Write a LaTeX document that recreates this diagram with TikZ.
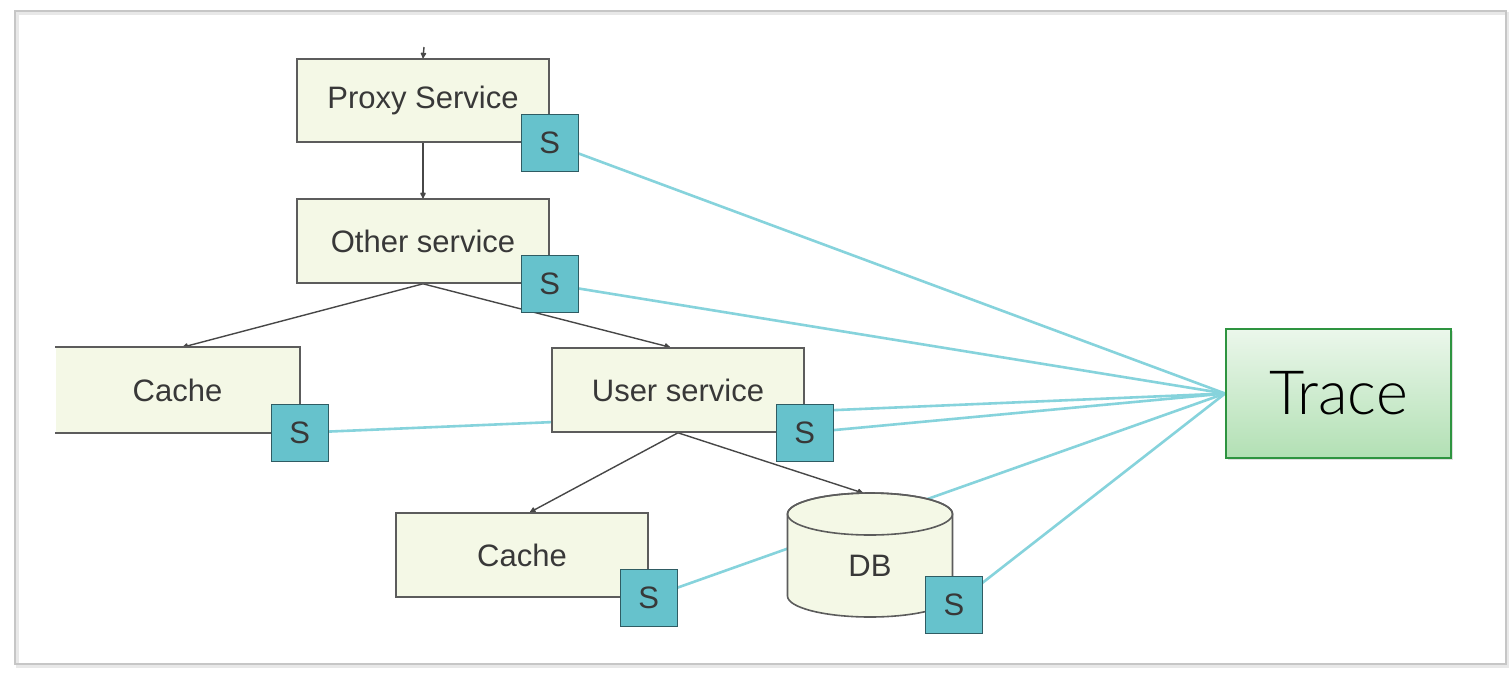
\documentclass[tikz,border=0pt]{standalone}
\usepackage{fontspec}
\setmainfont{Liberation Sans}
\newfontfamily\tracefont{Lato Light}
\usetikzlibrary{arrows.meta,shadows}
\definecolor{boxfill}{HTML}{F4F8E6}
\definecolor{boxline}{HTML}{5C5C5C}
\definecolor{sfill}{HTML}{66C2CC}
\definecolor{sline}{HTML}{2F5C63}
\definecolor{cyanline}{HTML}{86D3DC}
\definecolor{arrowcol}{HTML}{474747}
\definecolor{txt}{HTML}{383838}
\definecolor{tracetop}{HTML}{EBF7EB}
\definecolor{tracebot}{HTML}{B2E0B4}
\definecolor{traceline}{HTML}{2E9440}
\pgfdeclarelayer{bg}
\pgfdeclarelayer{lines}
\pgfsetlayers{bg,lines,main}
\begin{document}
\begin{tikzpicture}[x=1pt,y=-1pt,
  svcbox/.style={draw=boxline, fill=boxfill, line width=1.6pt, inner sep=0pt,
    text=txt, font=\fontsize{31}{36}\selectfont},
  sbox/.style={draw=sline, fill=sfill, line width=1.4pt, minimum size=57pt, inner sep=0pt,
    text=txt, font=\fontsize{31}{36}\selectfont},
  conn/.style={draw=arrowcol, line width=1.4pt, -{Latex[length=7pt,width=7pt,round]}},
  tracelink/.style={draw=cyanline, line width=2.6pt},
  frameline/.style={draw=gray!45, line width=1.8pt}
]
\useasboundingbox (0,0) rectangle (1509,673);
\begin{pgfonlayer}{bg}
  \fill[white] (0,0) rectangle (1509,673);
  \draw[draw=gray!18, line width=3pt] (17,13) rectangle (1508,666);
  \draw[frameline] (15,11) rectangle (1506,664);
\end{pgfonlayer}

% service boxes
\node[svcbox, minimum width=252pt, minimum height=83pt] (proxy) at (423,100.5) {Proxy Service};
\node[svcbox, minimum width=252pt, minimum height=84pt] (other) at (423,241) {Other service};
\node[svcbox, draw=none, minimum width=243pt, minimum height=84pt] (cacheL) at (177.5,390) {Cache};
\draw[draw=boxline, line width=1.6pt] (cacheL.north west) -- (cacheL.north east) -- (cacheL.south east) -- (cacheL.south west);
\node[svcbox, minimum width=252pt, minimum height=84pt] (user) at (678,390) {User service};
\node[svcbox, minimum width=252pt, minimum height=84pt] (cacheB) at (522,555) {Cache};

% DB cylinder
\path[draw=boxline, fill=boxfill, line width=1.6pt]
  (787.5,514) -- (787.5,596) arc[start angle=180, end angle=0, x radius=82.5, y radius=21]
  -- (952.5,514) arc[start angle=0, end angle=-180, x radius=82.5, y radius=21] -- cycle;
\draw[draw=boxline, line width=1.6pt] (870,514) ellipse[x radius=82.5, y radius=21];
\node[text=txt, font=\fontsize{31}{36}\selectfont] (db) at (870,566) {DB};
\coordinate (dbtop) at (863,493);

% trace
\node[draw=traceline, line width=1.8pt, top color=tracetop, bottom color=tracebot,
  minimum width=225pt, minimum height=129pt, inner sep=0pt,
  drop shadow={opacity=0.25, shadow xshift=1.5pt, shadow yshift=-1.5pt},
  font=\tracefont\fontsize{61}{66}\selectfont] (trace) at (1338.5,393.5) {Trace};

% S markers
\node[sbox] (sproxy) at (proxy.south east) {S};
\node[sbox] (sother) at (other.south east) {S};
\node[sbox] (scacheL) at (cacheL.south east) {S};
\node[sbox] (suser) at (user.south east) {S};
\node[sbox] (scacheB) at (cacheB.south east) {S};
\node[sbox] (sdb) at (954,605) {S};

\coordinate (stub) at (424,47);

\begin{pgfonlayer}{lines}
  \draw[tracelink] (sproxy.center) -- (trace.west);
  \draw[tracelink] (sother.center) -- (trace.west);
  \draw[tracelink] (scacheL.center) -- (trace.west);
  \draw[tracelink] (suser.center) -- (trace.west);
  \draw[tracelink] (scacheB.center) -- (trace.west);
  \draw[tracelink] (sdb.center) -- (trace.west);
  \draw[conn] (stub) -- (proxy.north);
  \draw[conn] (proxy.south) -- (other.north);
  \draw[conn] (other.south) -- ([xshift=5pt]cacheL.north);
  \draw[conn] (other.south) -- ([xshift=-8pt]user.north);
  \draw[conn] (user.south) -- ([xshift=8pt]cacheB.north);
  \draw[conn] (user.south) -- (dbtop);
\end{pgfonlayer}
\end{tikzpicture}
\end{document}
